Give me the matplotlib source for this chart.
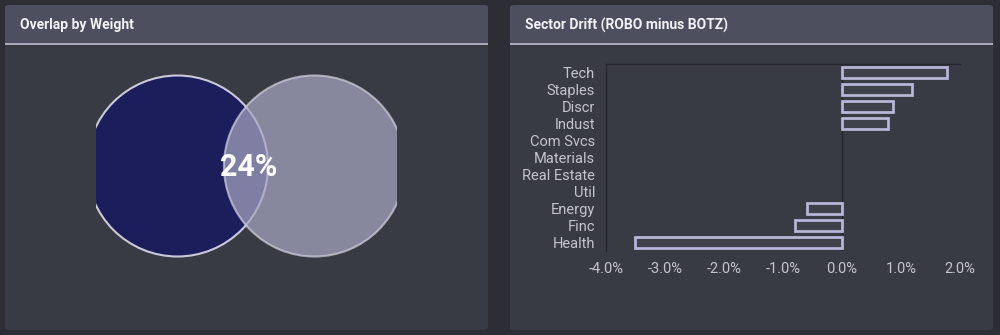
import matplotlib.pyplot as plt
from matplotlib.patches import FancyBboxPatch, Circle, Rectangle

# overlap panel
overlap_pct = 24

# sector drift, ROBO minus BOTZ (in %)
sectors = ["Tech", "Staples", "Discr", "Indust", "Com Svcs", "Materials",
           "Real Estate", "Util", "Energy", "Finc", "Health"]
drift = [1.78, 1.18, 0.87, 0.78, 0.0, 0.0, 0.0, 0.0, -0.60, -0.79, -3.51]
xticks = [-4, -3, -2, -1, 0, 1, 2]

W, H = 1000, 335
BG = "#2c2d35"
HEAD = "#4d4f5e"
BODY = "#393b44"
RULE = "#a9a9bb"
TXT = "#f2f2f6"
TICK = "#c4c4cc"
EDGE = "#b6b6d6"

plt.rcParams['font.family'] = ['Roboto', 'DejaVu Sans']

fig = plt.figure(figsize=(W / 100, H / 100), dpi=100)
fig.patch.set_facecolor(BG)


def fx(px):
    return px / W


def fy(py):
    return 1 - py / H


def panel(x0, x1, title):
    y0, y1, yh = 5, 330, 45
    body = FancyBboxPatch((fx(x0), fy(y1)), fx(x1 - x0), (y1 - y0) / H,
                          boxstyle="round,pad=0,rounding_size=0.006",
                          transform=fig.transFigure, fc=BODY, ec="none",
                          zorder=-10)
    fig.patches.append(body)
    head = FancyBboxPatch((fx(x0), fy(yh)), fx(x1 - x0), (yh - y0) / H,
                          boxstyle="round,pad=0,rounding_size=0.006",
                          transform=fig.transFigure, fc=HEAD, ec="none",
                          zorder=-9)
    fig.patches.append(head)
    fig.patches.append(Rectangle((fx(x0), fy(yh)), fx(x1 - x0), 2 / H,
                                 transform=fig.transFigure, fc=RULE, ec="none",
                                 zorder=-8))
    fig.text(fx(x0 + 15), fy(25), title, color=TXT, fontsize=10,
             fontweight='bold', va='center', ha='left')


panel(5, 488, "Overlap by Weight")
panel(510, 993, "Sector Drift (ROBO minus BOTZ)")

# venn
ax1 = fig.add_axes([fx(96), fy(266), fx(397 - 96), 200 / H])
ax1.set_xlim(-1.657, 1.669)
ax1.set_ylim(-1.105, 1.105)
ax1.axis('off')
ax1.add_patch(Circle((-0.757, 0), 1, fc="#1b1e5b", ec="#c9c9da", lw=1.5, alpha=1))
ax1.add_patch(Circle((0.757, 0), 1, fc="#a6a6c0", ec="#d0d0de", lw=1.5, alpha=0.72))
ax1.text(0.03, -0.01, "{}%".format(overlap_pct), color="white", fontsize=22,
         fontweight='bold', ha='center', va='center')

# drift bars (zero-width bars get no outline)
ax2 = fig.add_axes([fx(606), fy(251), fx(960 - 606), (251 - 64) / H])
ax2.set_facecolor("none")
pos = list(range(len(sectors)))
lws = [2 if v != 0 else 0 for v in drift]
ax2.barh(pos, drift, height=0.7, facecolor=(1, 1, 1, 0.04), edgecolor=EDGE,
         linewidth=lws)
ax2.axvline(0, color="#25262d", lw=1, zorder=0)
ax2.set_xlim(-4, 2)
ax2.set_ylim(len(sectors) - 0.5, -0.5)
ax2.set_yticks(pos)
ax2.set_yticklabels(sectors)
ax2.set_xticks(xticks)
ax2.set_xticklabels(["{:.1f}%".format(v) for v in xticks])
ax2.tick_params(length=0, colors=TICK, labelsize=10.5)
ax2.tick_params(axis='y', pad=8)
ax2.tick_params(axis='x', pad=8)
for s in ["right", "bottom"]:
    ax2.spines[s].set_visible(False)
for s in ["left", "top"]:
    ax2.spines[s].set_color("#25262d")
    ax2.spines[s].set_linewidth(1)

fig.savefig("out.png", dpi=100, facecolor=BG)
